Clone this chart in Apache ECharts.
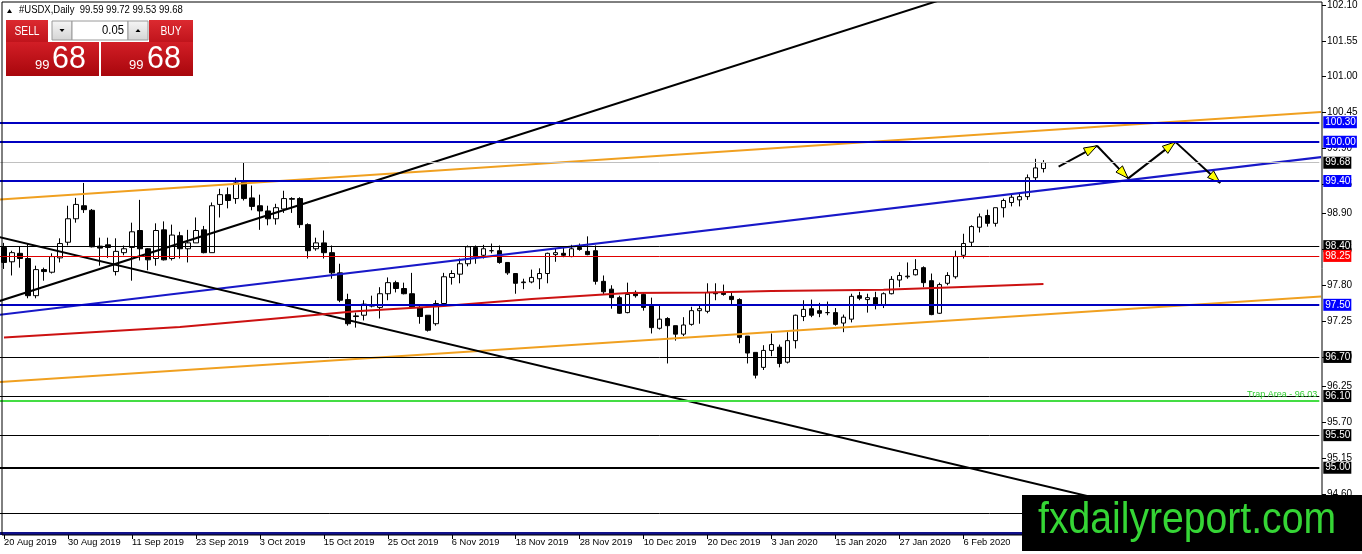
<!DOCTYPE html>
<html>
<head>
<meta charset="utf-8">
<title>#USDX, Daily</title>
<script src="https://cdn.jsdelivr.net/npm/echarts@6/dist/echarts.min.js"></script>
<style>
  html, body { margin: 0; padding: 0; background: #fff; }
  #chart { width: 1362px; height: 554px; }
</style>
</head>
<body>
<div id="chart"></div>
<script>
// trading days shown on the chart (weekends, 25 Dec and 1 Jan are missing)
const tradingDays = [
  ['Aug 2019', [20, 21, 22, 23, 26, 27, 28, 29, 30]],
  ['Sep 2019', [2, 3, 4, 5, 6, 9, 10, 11, 12, 13, 16, 17, 18, 19, 20, 23, 24, 25, 26, 27, 30]],
  ['Oct 2019', [1, 2, 3, 4, 7, 8, 9, 10, 11, 14, 15, 16, 17, 18, 21, 22, 23, 24, 25, 28, 29, 30, 31]],
  ['Nov 2019', [1, 4, 5, 6, 7, 8, 11, 12, 13, 14, 15, 18, 19, 20, 21, 22, 25, 26, 27, 28, 29]],
  ['Dec 2019', [2, 3, 4, 5, 6, 9, 10, 11, 12, 13, 16, 17, 18, 19, 20, 23, 24, 26, 27, 30, 31]],
  ['Jan 2020', [2, 3, 6, 7, 8, 9, 10, 13, 14, 15, 16, 17, 20, 21, 22, 23, 24, 27, 28, 29, 30, 31]],
  ['Feb 2020', [3, 4, 5, 6, 7, 10, 11, 12, 13, 14, 17, 18, 19, 20]]
];
const emptySlots = 34;   // blank bars to the right of the last candle
const labelEvery = 8;    // a date label every 8 bars

const opens = [
  98.38, 98.16, 98.29, 98.21, 97.64, 98.04, 98.00, 98.22, 98.46, 98.82,
  99.02, 98.95, 98.40, 98.42, 98.01, 98.30, 98.38, 98.64, 98.36, 98.21,
  98.65, 98.21, 98.56, 98.36, 98.45, 98.65, 98.30, 99.04, 99.19, 99.13,
  99.39, 99.14, 99.02, 98.94, 98.82, 98.97, 99.13, 99.13, 98.73, 98.36,
  98.45, 98.30, 97.99, 97.58, 97.33, 97.34, 97.48, 97.46, 97.67, 97.84,
  97.75, 97.67, 97.46, 97.34, 97.21, 97.52, 97.92, 97.97, 98.13, 98.38,
  98.26, 98.33, 98.33, 98.15, 97.98, 97.84, 97.85, 97.90, 97.98, 98.27,
  98.29, 98.24, 98.38, 98.32, 98.33, 97.86, 97.74, 97.61, 97.38, 97.69,
  97.66, 97.48, 97.14, 97.29, 97.18, 97.05, 97.20, 97.41, 97.40, 97.69,
  97.68, 97.63, 97.58, 97.02, 96.77, 96.54, 96.80, 96.85, 96.62, 96.95,
  97.32, 97.44, 97.41, 97.38, 97.38, 97.22, 97.28, 97.64, 97.58, 97.61,
  97.50, 97.67, 97.88, 97.93, 97.96, 98.07, 97.87, 97.37, 97.83, 97.93,
  98.26, 98.46, 98.69, 98.87, 98.75, 98.99, 99.07, 99.11, 99.16, 99.45,
  99.59
];
const highs = [
  98.45, 98.33, 98.39, 98.44, 98.10, 98.07, 98.29, 98.52, 99.02, 99.14,
  99.37, 98.97, 98.53, 98.53, 98.52, 98.41, 98.76, 99.11, 98.37, 98.75,
  98.78, 98.73, 98.62, 98.65, 98.84, 98.71, 99.07, 99.28, 99.30, 99.45,
  99.68, 99.33, 99.19, 99.02, 99.05, 99.25, 99.15, 99.15, 98.75, 98.53,
  98.64, 98.41, 98.13, 97.67, 97.38, 97.57, 97.64, 97.77, 97.92, 97.87,
  97.84, 97.99, 97.48, 97.34, 97.57, 97.99, 98.03, 98.21, 98.41, 98.41,
  98.42, 98.44, 98.41, 98.15, 97.98, 97.90, 98.04, 98.06, 98.30, 98.36,
  98.40, 98.42, 98.44, 98.55, 98.41, 97.95, 97.80, 97.64, 97.84, 97.72,
  97.69, 97.61, 97.49, 97.31, 97.18, 97.31, 97.47, 97.50, 97.83, 97.83,
  97.81, 97.69, 97.60, 97.02, 96.77, 96.88, 97.06, 96.89, 97.08, 97.35,
  97.57, 97.58, 97.53, 97.55, 97.45, 97.35, 97.67, 97.70, 97.67, 97.70,
  97.69, 97.94, 98.00, 98.15, 98.20, 98.09, 97.98, 97.84, 98.00, 98.33,
  98.59, 98.72, 98.90, 98.96, 98.99, 99.13, 99.21, 99.22, 99.50, 99.74,
  99.72
];
const lows = [
  98.05, 97.95, 98.07, 97.60, 97.60, 97.87, 97.98, 98.15, 98.41, 98.76,
  98.91, 98.38, 98.10, 98.22, 97.95, 98.26, 97.87, 98.18, 98.03, 98.10,
  98.18, 98.18, 98.21, 98.15, 98.45, 98.29, 98.30, 98.84, 98.98, 99.05,
  99.10, 98.95, 98.65, 98.72, 98.73, 98.91, 98.91, 98.68, 98.21, 98.33,
  98.21, 97.90, 97.54, 97.18, 97.15, 97.26, 97.46, 97.29, 97.57, 97.69,
  97.66, 97.46, 97.21, 97.09, 97.18, 97.51, 97.81, 97.83, 98.09, 98.13,
  98.21, 98.29, 98.13, 97.96, 97.67, 97.74, 97.83, 97.74, 97.83, 98.16,
  98.23, 98.23, 98.33, 98.26, 97.81, 97.66, 97.44, 97.36, 97.37, 97.61,
  97.41, 97.06, 97.12, 96.60, 96.95, 97.02, 97.18, 97.21, 97.37, 97.57,
  97.64, 97.49, 96.91, 96.60, 96.37, 96.50, 96.71, 96.54, 96.60, 96.83,
  97.25, 97.31, 97.31, 97.34, 97.18, 97.08, 97.23, 97.57, 97.38, 97.43,
  97.45, 97.66, 97.77, 97.90, 97.95, 97.77, 97.34, 97.36, 97.80, 97.90,
  98.21, 98.40, 98.61, 98.70, 98.70, 98.84, 99.01, 99.01, 99.11, 99.39,
  99.53
];
const closes = [
  98.15, 98.30, 98.21, 97.64, 98.04, 98.01, 98.24, 98.44, 98.82, 99.04,
  98.96, 98.39, 98.37, 98.38, 98.32, 98.36, 98.62, 98.36, 98.19, 98.64,
  98.19, 98.57, 98.36, 98.45, 98.64, 98.30, 99.02, 99.19, 99.10, 99.37,
  99.13, 99.01, 98.94, 98.82, 98.99, 99.13, 99.12, 98.73, 98.33, 98.45,
  98.30, 97.99, 97.57, 97.21, 97.32, 97.51, 97.50, 97.67, 97.84, 97.75,
  97.67, 97.47, 97.32, 97.11, 97.52, 97.93, 97.98, 98.13, 98.39, 98.24,
  98.36, 98.33, 98.15, 97.99, 97.83, 97.85, 97.92, 97.98, 98.29, 98.30,
  98.26, 98.36, 98.35, 98.27, 97.86, 97.70, 97.61, 97.37, 97.66, 97.64,
  97.46, 97.15, 97.28, 97.18, 97.05, 97.19, 97.41, 97.44, 97.69, 97.67,
  97.66, 97.58, 97.00, 96.76, 96.42, 96.80, 96.89, 96.60, 96.95, 97.34,
  97.43, 97.34, 97.37, 97.38, 97.20, 97.31, 97.63, 97.60, 97.61, 97.49,
  97.67, 97.89, 97.95, 97.94, 98.04, 97.84, 97.35, 97.81, 97.95, 98.24,
  98.44, 98.70, 98.85, 98.75, 98.99, 99.10, 99.15, 99.16, 99.45, 99.60,
  99.68
];

// right price scale
const priceMin = 93.968;
const priceMax = 102.131;
const priceTicks = [102.10, 101.55, 101.00, 100.45, 99.90, 99.35, 98.90, 98.35, 97.80,
  97.25, 96.70, 96.25, 95.70, 95.15, 94.60, 94.05];

// horizontal levels
const blueLevels = [100.30, 100.00, 99.40, 97.50];
const blackLevels = [98.40, 96.70, 96.10, 95.50, 95.00, 94.30];
const redLevels = [98.25];
const lastPrice = 99.68;
const trapLevel = 96.03;
const baseLevel = 94.00;

// drawn objects, points are [bar index, price]
const upperChannel = [[-1, 99.11], [165, 100.46]];
const lowerChannel = [[-1, 96.31], [165, 97.63]];
const blueTrend = [[-1, 97.34], [165, 99.77]];
const blackRise = [[-1, 97.54], [120, 102.29]];
const blackFall = [[-1, 98.55], [160, 93.85]];
const maPoints = [[0, 97.00], [22, 97.16], [33, 97.28], [44, 97.40], [55, 97.48], [66, 97.59],
  [78, 97.68], [88, 97.69], [96, 97.71], [110, 97.73], [119, 97.77], [130, 97.82]];
const arrowPath = [[131.9, 99.62], [136.7, 99.94], [140.6, 99.44], [146.5, 100.00], [152.1, 99.37]];

const fontFamily = "'Liberation Sans', Arial, sans-serif";

// ---- build what the library needs
const dates = [];
tradingDays.forEach(([month, days]) => days.forEach(d => dates.push(d + ' ' + month)));
const categories = dates.slice();
for (let i = 0; i < emptySlots; i++) categories.push('pad' + i);

const candles = dates.map((d, i) => [opens[i], closes[i], lows[i], highs[i]]);
const arrowSegments = [];
for (let i = 1; i < arrowPath.length; i++) {
  arrowSegments.push([arrowPath[i - 1][0], arrowPath[i - 1][1], arrowPath[i][0], arrowPath[i][1]]);
}

const last = dates.length - 1;
const headerText = '#USDX,Daily  ' + [opens[last], highs[last], lows[last], closes[last]]
  .map(v => v.toFixed(2)).join(' ');
const quote = closes[last].toFixed(2).split('.');

function tag(price, bg) {
  return {
    show: true, position: 'end', distance: 4,
    formatter: price.toFixed(2), color: '#fff', backgroundColor: bg,
    padding: [1, 1, 0, 2], fontSize: 10, lineHeight: 11, fontFamily
  };
}
function level(price, color, width, label) {
  return { yAxis: price, lineStyle: { color, width, type: 'solid' }, label: label || { show: false } };
}

const levelLines = [];
blueLevels.forEach(p => levelLines.push(level(p, '#0000c0', 2, tag(p, '#0000ff'))));
blackLevels.forEach(p => levelLines.push(level(p, '#000', p === 95.00 ? 2 : 1, tag(p, '#000'))));
redLevels.forEach(p => levelLines.push(level(p, '#e00000', 1, tag(p, '#ff0000'))));
levelLines.push(level(lastPrice, '#c0c0c0', 1, tag(lastPrice, '#000')));
levelLines.push(level(trapLevel, '#44dd44', 2, {
  show: true, position: 'insideEndTop', distance: 2,
  formatter: 'Trap Area - ' + trapLevel.toFixed(2), color: '#33cc33', fontSize: 9, fontFamily
}));
levelLines.push(level(baseLevel, '#10108a', 3));

function trendSeries(points, color) {
  return {
    type: 'line', xAxisIndex: 1, data: points, showSymbol: false, silent: true,
    lineStyle: { color, width: 2 }, z: 3, clip: true
  };
}

// ---- overlay graphics: header, one-click panel, watermark, frame
const redTop = { type: 'linear', x: 0, y: 0, x2: 0, y2: 1,
  colorStops: [{ offset: 0, color: '#dc2a30' }, { offset: 1, color: '#c0141c' }] };
const redBig = { type: 'linear', x: 0, y: 0, x2: 0, y2: 1,
  colorStops: [{ offset: 0, color: '#d21e26' }, { offset: 1, color: '#a8060c' }] };
const greyBtn = { type: 'linear', x: 0, y: 0, x2: 0, y2: 1,
  colorStops: [{ offset: 0, color: '#f6f6f6' }, { offset: 1, color: '#d4d4d4' }] };

// text element; narrow < 1 squeezes it horizontally (MT4 uses a narrow UI font)
function txt(x, y, text, size, color, align, narrow) {
  return { type: 'text', z: 101, x, y, scaleX: narrow || 1,
    style: { x: 0, y: 0, text, fill: color, font: size + 'px ' + fontFamily,
      textAlign: align || 'left', textVerticalAlign: 'middle' } };
}

const graphics = [
  { type: 'rect', z: 50, shape: { x: 2, y: 2, width: 1320, height: 533 },
    style: { fill: 'none', stroke: '#000', lineWidth: 1 } },
  { type: 'polygon', z: 101, shape: { points: [[7, 13], [9.5, 9], [12, 13]] }, style: { fill: '#000' } },
  txt(19, 10.5, headerText, 10, '#000', 'left', 0.95),
  // sell / buy buttons
  { type: 'rect', z: 100, shape: { x: 6, y: 20, width: 42, height: 22 }, style: { fill: redTop } },
  { type: 'rect', z: 100, shape: { x: 149, y: 20, width: 44, height: 22 }, style: { fill: redTop } },
  txt(27, 31.5, 'SELL', 12.5, '#fff', 'center', 0.82),
  txt(171, 31.5, 'BUY', 12.5, '#fff', 'center', 0.82),
  // lot spinner
  { type: 'rect', z: 100, shape: { x: 52, y: 21, width: 20, height: 19 },
    style: { fill: greyBtn, stroke: '#9a9a9a', lineWidth: 1 } },
  { type: 'rect', z: 100, shape: { x: 72, y: 21, width: 56, height: 19 },
    style: { fill: '#fff', stroke: '#9a9a9a', lineWidth: 1 } },
  { type: 'rect', z: 100, shape: { x: 128, y: 21, width: 20, height: 19 },
    style: { fill: greyBtn, stroke: '#9a9a9a', lineWidth: 1 } },
  { type: 'polygon', z: 101, shape: { points: [[59.5, 29], [64.5, 29], [62, 32]] }, style: { fill: '#000' } },
  { type: 'polygon', z: 101, shape: { points: [[135.5, 32], [140.5, 32], [138, 29]] }, style: { fill: '#000' } },
  txt(124, 31, '0.05', 12.5, '#000', 'right', 0.9),
  // price boxes
  { type: 'rect', z: 100, shape: { x: 6, y: 42, width: 93, height: 34 }, style: { fill: redBig } },
  { type: 'rect', z: 100, shape: { x: 101, y: 42, width: 92, height: 34 }, style: { fill: redBig } },
  txt(35, 65.5, quote[0], 13, '#fff'),
  txt(52, 59, quote[1], 32, '#fff', 'left', 0.95),
  txt(129, 65.5, quote[0], 13, '#fff'),
  txt(147, 59, quote[1], 32, '#fff', 'left', 0.95),
  // watermark
  { type: 'rect', z: 100, shape: { x: 1022, y: 495, width: 340, height: 56 }, style: { fill: '#000' } },
  txt(1038, 521, 'fxdailyreport.com', 45, '#35d535', 'left', 0.87)
];

const chart = echarts.init(document.getElementById('chart'));
chart.setOption({
  animation: false,
  backgroundColor: '#fff',
  grid: { left: -0.7, right: 42.7, top: 2, bottom: 19, containLabel: false },
  xAxis: [{
    type: 'category',
    data: categories,
    boundaryGap: true,
    axisLine: { show: false, onZero: false },
    axisTick: {
      show: true, alignWithLabel: true, length: 4, lineStyle: { color: '#000' },
      interval: idx => idx % labelEvery === 0 && idx < dates.length
    },
    axisLabel: {
      interval: idx => idx % labelEvery === 0 && idx < dates.length,
      align: 'left', margin: 3, fontSize: 9.3, color: '#000', fontFamily
    },
    splitLine: { show: false }
  }, {
    type: 'value', min: -0.5, max: categories.length - 0.5, show: false,
    axisLine: { onZero: false }
  }],
  yAxis: {
    type: 'value',
    position: 'right',
    offset: 2.7,
    min: priceMin,
    max: priceMax,
    axisLine: { show: false, onZero: false },
    axisTick: { show: true, length: 4, lineStyle: { color: '#000' }, customValues: priceTicks },
    axisLabel: {
      customValues: priceTicks, formatter: v => v.toFixed(2),
      margin: 5, fontSize: 10, color: '#000', fontFamily
    },
    splitLine: { show: false }
  },
  series: [
    {
      type: 'candlestick',
      data: candles,
      barWidth: 5,
      z: 2,
      silent: true,
      itemStyle: {
        color: '#fff', color0: '#000',
        borderColor: '#000', borderColor0: '#000', borderColorDoji: '#000', borderWidth: 1
      },
      markLine: {
        silent: true, symbol: ['none', 'none'], animation: false,
        emphasis: { disabled: true },
        data: levelLines
      }
    },
    trendSeries(upperChannel, '#f0a020'),
    trendSeries(lowerChannel, '#f0a020'),
    trendSeries(blueTrend, '#1818c8'),
    trendSeries(blackRise, '#000'),
    trendSeries(blackFall, '#000'),
    trendSeries(maPoints, '#cc1111'),
    {
      type: 'custom',
      xAxisIndex: 1,
      data: arrowSegments,
      encode: { x: [0, 2], y: [1, 3] },
      silent: true,
      z: 4,
      renderItem: (params, api) => {
        const a = api.coord([api.value(0), api.value(1)]);
        const b = api.coord([api.value(2), api.value(3)]);
        const dx = b[0] - a[0], dy = b[1] - a[1];
        const len = Math.hypot(dx, dy);
        const ux = dx / len, uy = dy / len;
        const head = 13, half = 4.5;
        const bx = b[0] - ux * head, by = b[1] - uy * head;
        return {
          type: 'group',
          children: [
            { type: 'line', shape: { x1: a[0], y1: a[1], x2: b[0], y2: b[1] },
              style: { stroke: '#000', lineWidth: 2 } },
            { type: 'polygon',
              shape: { points: [[b[0], b[1]], [bx - uy * half, by + ux * half], [bx + uy * half, by - ux * half]] },
              style: { fill: '#ffff00', stroke: '#000', lineWidth: 1 } }
          ]
        };
      }
    }
  ],
  graphic: graphics
});
</script>
</body>
</html>
